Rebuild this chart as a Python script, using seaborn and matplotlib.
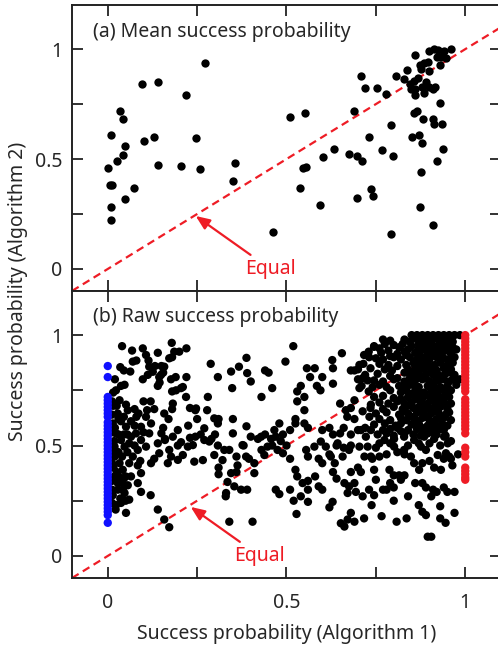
import matplotlib
matplotlib.use("Agg")
import numpy as np
import pandas as pd
import matplotlib.pyplot as plt
import seaborn as sns

# ---- data -------------------------------------------------------------
# (a) mean success probability: (algorithm 1, algorithm 2)
mean_points = [
    (0.0, 0.46), (0.01, 0.61), (0.005, 0.38), (0.013, 0.38), (0.01, 0.28), (0.01, 0.225),
    (0.025, 0.49), (0.035, 0.72), (0.044, 0.68), (0.042, 0.52), (0.049, 0.56), (0.049, 0.32),
    (0.074, 0.37), (0.096, 0.84), (0.10, 0.58), (0.129, 0.60), (0.14, 0.85), (0.14, 0.475),
    (0.205, 0.47), (0.22, 0.79), (0.248, 0.595), (0.257, 0.455), (0.273, 0.935), (0.351, 0.40),
    (0.357, 0.48), (0.463, 0.17), (0.51, 0.69), (0.538, 0.37), (0.546, 0.46), (0.555, 0.465),
    (0.553, 0.71), (0.595, 0.29), (0.603, 0.51), (0.633, 0.545), (0.675, 0.525), (0.688, 0.72),
    (0.696, 0.325), (0.698, 0.515), (0.712, 0.49), (0.708, 0.88), (0.719, 0.825), (0.73, 0.60),
    (0.737, 0.365), (0.742, 0.33), (0.752, 0.825), (0.768, 0.54), (0.777, 0.795), (0.792, 0.655),
    (0.793, 0.16), (0.797, 0.515), (0.807, 0.88), (0.83, 0.865), (0.837, 0.905), (0.845, 0.84),
    (0.847, 0.82), (0.85, 0.60), (0.856, 0.71), (0.857, 0.855), (0.86, 0.973), (0.86, 0.82),
    (0.86, 0.79), (0.865, 0.72), (0.87, 0.61), (0.873, 0.927), (0.874, 0.28), (0.875, 0.91),
    (0.877, 0.44), (0.879, 0.575), (0.883, 0.68), (0.885, 0.935), (0.88, 0.83), (0.885, 0.80),
    (0.89, 0.85), (0.895, 0.94), (0.90, 0.90), (0.90, 0.99), (0.90, 0.83), (0.909, 0.20),
    (0.91, 0.68), (0.91, 0.82), (0.912, 0.66), (0.913, 1.0), (0.915, 0.83), (0.92, 0.965),
    (0.921, 0.49), (0.93, 0.755), (0.93, 0.93), (0.933, 0.965), (0.935, 0.66), (0.938, 0.545),
    (0.94, 0.99), (0.945, 0.96), (0.96, 1.0), (0.925, 0.995), (0.868, 0.87),
]

# (b) raw success probability, algorithm 1 == 0 (blue) and == 1 (red)
raw_zero_y = [0.86, 0.81, 0.72, 0.705, 0.69, 0.675, 0.66, 0.645, 0.63, 0.605, 0.59, 0.575,
              0.56, 0.545, 0.53, 0.515, 0.50, 0.485, 0.47, 0.455, 0.44, 0.425, 0.41, 0.395,
              0.38, 0.365, 0.35, 0.335, 0.32, 0.305, 0.29, 0.275, 0.26, 0.245, 0.23, 0.215,
              0.20, 0.185, 0.15]
raw_one_y = [1.0, 0.985, 0.97, 0.955, 0.94, 0.925, 0.91, 0.895, 0.88, 0.865, 0.85, 0.835,
             0.82, 0.805, 0.79, 0.775, 0.76, 0.745, 0.71, 0.695, 0.68, 0.665, 0.65, 0.635,
             0.62, 0.605, 0.59, 0.575, 0.555, 0.49, 0.47, 0.45, 0.40, 0.385, 0.37, 0.355, 0.345]

raw_left = [
    (0.04, 0.95), (0.068, 0.93), (0.098, 0.94), (0.14, 0.92), (0.107, 0.91), (0.114, 0.885),
    (0.035, 0.855), (0.045, 0.84), (0.07, 0.88), (0.08, 0.885), (0.063, 0.835), (0.116, 0.857),
    (0.126, 0.834), (0.02, 0.80), (0.037, 0.77), (0.047, 0.775), (0.098, 0.80), (0.144, 0.81),
    (0.14, 0.77), (0.112, 0.82), (0.132, 0.86), (0.15, 0.86), (0.155, 0.83), (0.145, 0.785),
    (0.015, 0.74), (0.023, 0.75), (0.033, 0.705), (0.015, 0.68), (0.028, 0.645), (0.051, 0.685),
    (0.056, 0.66), (0.037, 0.61), (0.051, 0.585), (0.065, 0.61), (0.075, 0.665), (0.08, 0.63),
    (0.1, 0.70), (0.12, 0.70), (0.065, 0.54), (0.079, 0.555), (0.093, 0.585), (0.086, 0.645),
    (0.107, 0.63), (0.121, 0.60), (0.116, 0.555), (0.093, 0.525), (0.107, 0.495), (0.084, 0.48),
    (0.07, 0.45), (0.06, 0.42), (0.084, 0.41), (0.093, 0.375), (0.065, 0.36), (0.056, 0.32),
    (0.047, 0.285), (0.06, 0.255), (0.028, 0.30), (0.023, 0.23), (0.051, 0.195), (0.037, 0.24),
    (0.019, 0.36), (0.033, 0.42), (0.019, 0.495), (0.047, 0.495), (0.023, 0.555), (0.037, 0.525),
    (0.019, 0.45), (0.042, 0.39), (0.028, 0.33), (0.042, 0.30), (0.014, 0.275), (0.014, 0.60),
    (0.084, 0.33), (0.093, 0.29), (0.091, 0.43), (0.121, 0.42), (0.13, 0.44), (0.144, 0.465),
    (0.14, 0.51), (0.018, 0.52), (0.016, 0.40), (0.02, 0.58), (0.03, 0.47), (0.025, 0.38),
    (0.022, 0.21), (0.03, 0.62), (0.045, 0.55), (0.055, 0.47), (0.035, 0.26), (0.05, 0.36),
    (0.06, 0.51), (0.075, 0.50), (0.075, 0.59), (0.10, 0.56), (0.11, 0.66), (0.13, 0.665),
    (0.12, 0.275), (0.14, 0.21), (0.158, 0.165), (0.172, 0.13), (0.05, 0.25), (0.155, 0.58),
    (0.15, 0.555), (0.16, 0.53), (0.055, 0.55), (0.045, 0.35),
    (0.012, 0.70), (0.012, 0.64), (0.012, 0.56), (0.012, 0.48), (0.012, 0.42), (0.012, 0.34),
    (0.012, 0.30), (0.012, 0.24), (0.03, 0.55), (0.03, 0.36), (0.04, 0.45), (0.045, 0.63),
    (0.025, 0.68), (0.04, 0.33),
]
raw_mid = [
    (0.179, 0.965), (0.186, 0.925), (0.20, 0.925), (0.172, 0.895), (0.18, 0.90), (0.22, 0.94),
    (0.288, 0.87), (0.158, 0.857), (0.149, 0.82), (0.177, 0.80), (0.19, 0.81), (0.22, 0.81),
    (0.205, 0.76), (0.191, 0.75), (0.21, 0.765), (0.18, 0.745), (0.28, 0.72), (0.182, 0.69),
    (0.18, 0.665), (0.158, 0.645), (0.17, 0.62), (0.23, 0.67), (0.245, 0.66), (0.25, 0.62),
    (0.225, 0.59), (0.196, 0.57), (0.16, 0.525), (0.182, 0.54), (0.196, 0.50), (0.205, 0.515),
    (0.224, 0.495), (0.238, 0.502), (0.23, 0.535), (0.245, 0.54), (0.26, 0.55), (0.29, 0.53),
    (0.30, 0.55), (0.172, 0.48), (0.177, 0.45), (0.196, 0.435), (0.168, 0.42), (0.21, 0.457),
    (0.242, 0.427), (0.266, 0.434), (0.27, 0.525), (0.284, 0.518), (0.308, 0.50), (0.326, 0.48),
    (0.298, 0.457), (0.321, 0.434), (0.308, 0.81), (0.278, 0.66), (0.298, 0.623), (0.308, 0.60),
    (0.35, 0.62), (0.345, 0.835), (0.367, 0.857), (0.388, 0.897), (0.39, 0.828), (0.40, 0.79),
    (0.348, 0.76), (0.44, 0.84), (0.45, 0.83), (0.46, 0.76), (0.43, 0.72), (0.35, 0.555),
    (0.377, 0.502), (0.387, 0.45), (0.363, 0.41), (0.345, 0.375), (0.335, 0.335), (0.331, 0.285),
    (0.354, 0.315), (0.373, 0.30), (0.39, 0.30), (0.33, 0.27), (0.36, 0.38), (0.31, 0.40),
    (0.31, 0.37), (0.34, 0.48), (0.38, 0.50), (0.36, 0.45), (0.395, 0.44), (0.41, 0.375),
    (0.41, 0.42), (0.43, 0.48), (0.46, 0.50), (0.475, 0.48), (0.49, 0.465), (0.429, 0.54),
    (0.48, 0.60), (0.466, 0.57), (0.457, 0.53), (0.484, 0.52), (0.447, 0.495), (0.438, 0.457),
    (0.388, 0.587), (0.40, 0.54), (0.42, 0.53), (0.44, 0.55), (0.47, 0.54), (0.48, 0.28),
    (0.47, 0.30), (0.405, 0.155), (0.34, 0.155), (0.27, 0.578), (0.247, 0.668), (0.219, 0.72),
    (0.31, 0.62),
]
raw_right = [
    (0.519, 0.95), (0.497, 0.88), (0.557, 0.85), (0.579, 0.85), (0.566, 0.81), (0.60, 0.81),
    (0.585, 0.77), (0.595, 0.75), (0.63, 0.85), (0.63, 0.78), (0.628, 0.887), (0.655, 0.918),
    (0.69, 0.84), (0.70, 0.80), (0.54, 0.77), (0.53, 0.745), (0.55, 0.72), (0.53, 0.70),
    (0.55, 0.66), (0.65, 0.69), (0.666, 0.66), (0.68, 0.67), (0.67, 0.63), (0.69, 0.62),
    (0.525, 0.62), (0.525, 0.60), (0.55, 0.60), (0.56, 0.58), (0.49, 0.55), (0.51, 0.57),
    (0.60, 0.57), (0.62, 0.58), (0.63, 0.55), (0.65, 0.555), (0.66, 0.58), (0.68, 0.55),
    (0.70, 0.57), (0.72, 0.58), (0.50, 0.50), (0.51, 0.44), (0.525, 0.39), (0.53, 0.36),
    (0.545, 0.33), (0.56, 0.34), (0.58, 0.36), (0.51, 0.30), (0.52, 0.25), (0.54, 0.27),
    (0.56, 0.30), (0.528, 0.19), (0.555, 0.48), (0.56, 0.45), (0.59, 0.44), (0.60, 0.42),
    (0.62, 0.46), (0.635, 0.42), (0.64, 0.50), (0.66, 0.49), (0.68, 0.50), (0.578, 0.495),
    (0.596, 0.518), (0.61, 0.495), (0.624, 0.45), (0.643, 0.51), (0.657, 0.45), (0.675, 0.48),
    (0.63, 0.38), (0.64, 0.35), (0.68, 0.38), (0.662, 0.33), (0.675, 0.315), (0.69, 0.33),
    (0.708, 0.38), (0.70, 0.40), (0.718, 0.45), (0.727, 0.495), (0.704, 0.495), (0.722, 0.54),
    (0.708, 0.57), (0.736, 0.57), (0.732, 0.63), (0.713, 0.655), (0.736, 0.685), (0.741, 0.765),
    (0.727, 0.795), (0.713, 0.805), (0.704, 0.76), (0.69, 0.705), (0.68, 0.84), (0.704, 0.865),
    (0.717, 0.91), (0.745, 0.947), (0.731, 0.90), (0.629, 0.245), (0.62, 0.22), (0.652, 0.148),
    (0.662, 0.133), (0.671, 0.165), (0.68, 0.195), (0.69, 0.155), (0.717, 0.17), (0.738, 0.23),
    (0.671, 0.285), (0.694, 0.29), (0.713, 0.27), (0.731, 0.30), (0.745, 0.275), (0.75, 0.345),
    (0.745, 0.39), (0.736, 0.45), (0.75, 0.49), (0.56, 0.245), (0.59, 0.315), (0.60, 0.30),
]
raw_far = [
    (0.766, 0.18), (0.808, 0.155), (0.836, 0.17), (0.87, 0.23), (0.88, 0.20), (0.89, 0.185),
    (0.895, 0.087), (0.905, 0.087), (0.93, 0.225), (0.93, 0.17), (0.945, 0.15), (0.97, 0.195),
    (0.77, 0.30), (0.78, 0.30), (0.80, 0.31), (0.80, 0.25), (0.84, 0.27), (0.79, 0.33),
    (0.80, 0.365), (0.815, 0.365), (0.83, 0.365), (0.86, 0.33), (0.88, 0.33), (0.89, 0.31),
    (0.905, 0.27), (0.91, 0.30), (0.92, 0.29), (0.94, 0.31), (0.95, 0.29), (0.97, 0.29),
    (0.788, 0.39), (0.82, 0.345), (0.857, 0.42), (0.871, 0.39), (0.88, 0.42), (0.90, 0.43),
    (0.913, 0.40), (0.932, 0.39), (0.94, 0.44), (0.955, 0.45), (0.98, 0.46), (0.964, 0.41),
    (0.89, 0.48), (0.81, 0.47), (0.83, 0.46), (0.74, 0.44), (0.76, 0.45), (0.78, 0.46),
    (0.801, 0.495), (0.829, 0.48), (0.848, 0.45), (0.876, 0.495), (0.923, 0.457), (0.946, 0.465),
    (0.951, 0.51), (0.774, 0.525), (0.801, 0.53), (0.829, 0.54), (0.857, 0.525), (0.885, 0.54),
    (0.913, 0.53), (0.941, 0.54), (0.76, 0.51), (0.79, 0.51), (0.84, 0.50), (0.87, 0.51),
    (0.90, 0.51), (0.93, 0.50), (0.96, 0.52), (0.985, 0.80), (0.96, 0.44),
]
raw_dense = [
    (0.85, 1.0), (0.865, 1.0), (0.88, 1.0), (0.895, 1.0), (0.91, 1.0), (0.925, 1.0), (0.94, 1.0),
    (0.955, 1.0), (0.97, 1.0), (0.985, 1.0),
    (0.77, 0.98), (0.79, 0.975), (0.83, 0.98), (0.845, 0.97), (0.86, 0.985), (0.875, 0.975),
    (0.89, 0.98), (0.905, 0.97), (0.92, 0.985), (0.935, 0.975), (0.95, 0.98), (0.965, 0.97),
    (0.745, 0.95), (0.76, 0.94), (0.80, 0.955), (0.815, 0.945), (0.85, 0.95), (0.87, 0.94),
    (0.885, 0.955), (0.90, 0.945), (0.92, 0.95), (0.935, 0.94), (0.95, 0.955), (0.965, 0.945),
    (0.73, 0.925), (0.765, 0.92), (0.785, 0.93), (0.81, 0.915), (0.83, 0.925), (0.86, 0.92),
    (0.875, 0.93), (0.895, 0.915), (0.91, 0.925), (0.93, 0.92), (0.945, 0.93), (0.96, 0.915),
    (0.75, 0.895), (0.77, 0.89), (0.80, 0.90), (0.82, 0.89), (0.845, 0.90), (0.865, 0.89),
    (0.88, 0.90), (0.90, 0.89), (0.92, 0.90), (0.94, 0.895), (0.955, 0.89), (0.97, 0.90),
    (0.715, 0.87), (0.76, 0.87), (0.785, 0.865), (0.835, 0.865), (0.855, 0.875), (0.875, 0.865),
    (0.89, 0.875), (0.915, 0.865), (0.93, 0.875), (0.95, 0.865),
    (0.70, 0.845), (0.735, 0.85), (0.775, 0.845), (0.795, 0.84), (0.84, 0.845), (0.86, 0.84),
    (0.885, 0.85), (0.905, 0.845), (0.92, 0.84), (0.94, 0.85), (0.96, 0.845),
    (0.72, 0.82), (0.755, 0.825), (0.79, 0.815), (0.85, 0.82), (0.87, 0.815), (0.89, 0.825),
    (0.91, 0.82), (0.93, 0.815), (0.945, 0.825), (0.97, 0.82),
    (0.745, 0.795), (0.77, 0.79), (0.80, 0.80), (0.83, 0.79), (0.86, 0.795), (0.88, 0.80),
    (0.90, 0.79), (0.92, 0.795), (0.94, 0.80), (0.955, 0.79),
    (0.71, 0.77), (0.76, 0.775), (0.78, 0.765), (0.815, 0.77), (0.845, 0.775), (0.87, 0.765),
    (0.895, 0.77), (0.91, 0.775), (0.93, 0.765), (0.95, 0.77), (0.975, 0.775),
    (0.73, 0.745), (0.79, 0.75), (0.82, 0.74), (0.835, 0.75), (0.86, 0.745), (0.885, 0.74),
    (0.905, 0.75), (0.925, 0.745), (0.945, 0.74), (0.96, 0.75),
    (0.745, 0.72), (0.77, 0.725), (0.80, 0.715), (0.84, 0.72), (0.865, 0.725), (0.88, 0.715),
    (0.90, 0.72), (0.915, 0.725), (0.935, 0.715), (0.955, 0.72),
    (0.76, 0.695), (0.785, 0.69), (0.81, 0.70), (0.83, 0.69), (0.85, 0.695), (0.875, 0.70),
    (0.895, 0.69), (0.92, 0.695), (0.94, 0.70), (0.96, 0.69),
    (0.735, 0.67), (0.77, 0.665), (0.80, 0.675), (0.825, 0.665), (0.855, 0.67), (0.87, 0.675),
    (0.89, 0.665), (0.91, 0.67), (0.93, 0.675), (0.95, 0.665),
    (0.75, 0.645), (0.78, 0.65), (0.815, 0.64), (0.84, 0.645), (0.865, 0.65), (0.885, 0.64),
    (0.905, 0.645), (0.925, 0.65), (0.945, 0.64),
    (0.76, 0.62), (0.79, 0.615), (0.82, 0.625), (0.835, 0.615), (0.86, 0.62), (0.88, 0.625),
    (0.90, 0.615), (0.92, 0.62), (0.94, 0.625), (0.96, 0.615),
    (0.745, 0.595), (0.775, 0.60), (0.805, 0.59), (0.85, 0.595), (0.87, 0.60), (0.895, 0.59),
    (0.915, 0.595), (0.935, 0.60), (0.95, 0.59),
    (0.77, 0.57), (0.79, 0.575), (0.82, 0.565), (0.84, 0.57), (0.865, 0.575), (0.885, 0.565),
    (0.905, 0.57), (0.93, 0.575),
    (0.755, 0.55), (0.80, 0.545), (0.83, 0.555), (0.855, 0.55), (0.875, 0.545), (0.895, 0.555),
    (0.92, 0.55), (0.945, 0.545),
]
raw_dense_fill = [
    (0.855, 0.985), (0.87, 0.96), (0.90, 0.96), (0.93, 0.96), (0.96, 0.985), (0.775, 0.96),
    (0.825, 0.96), (0.84, 0.935), (0.89, 0.935), (0.92, 0.935), (0.955, 0.93), (0.975, 0.935),
    (0.79, 0.905), (0.835, 0.91), (0.87, 0.91), (0.905, 0.905), (0.935, 0.905), (0.965, 0.875),
    (0.81, 0.86), (0.86, 0.86), (0.90, 0.86), (0.95, 0.84), (0.83, 0.83), (0.87, 0.835),
    (0.92, 0.83), (0.96, 0.83), (0.81, 0.805), (0.845, 0.805), (0.89, 0.805), (0.93, 0.80),
    (0.965, 0.80), (0.83, 0.765), (0.86, 0.765), (0.91, 0.76), (0.94, 0.755), (0.85, 0.735),
    (0.875, 0.735), (0.92, 0.735), (0.95, 0.73), (0.82, 0.71), (0.86, 0.71), (0.905, 0.705),
    (0.93, 0.705), (0.84, 0.68), (0.88, 0.685), (0.92, 0.68), (0.945, 0.685), (0.83, 0.655),
    (0.875, 0.655), (0.915, 0.655), (0.955, 0.65), (0.85, 0.63), (0.89, 0.63), (0.93, 0.63),
    (0.82, 0.60), (0.86, 0.605), (0.905, 0.605), (0.925, 0.58), (0.875, 0.585), (0.81, 0.58),
    (0.94, 0.57), (0.78, 0.555), (0.91, 0.56),
]

tick_pos = [0, 0.25, 0.5, 0.75, 1]
tick_text = ["0", "", "0.5", "", "1"]

RED = "#ee1c25"
BLUE = "#1010ff"
FS = 14

# ---- figure -----------------------------------------------------------
sns.set_style("ticks")
plt.rcParams['font.family'] = ['Noto Sans', 'DejaVu Sans']

fig = plt.figure(figsize=(4.98, 6.48), dpi=100)
ax_a = fig.add_axes([0.1446, 0.551, 0.8614, 0.441])
ax_b = fig.add_axes([0.1446, 0.108, 0.8614, 0.443])

df_a = pd.DataFrame(mean_points, columns=["alg1", "alg2"])
sns.scatterplot(data=df_a, x="alg1", y="alg2", color="black", s=36,
                linewidth=0, ax=ax_a, zorder=3)

black = pd.DataFrame(raw_left + raw_mid + raw_right + raw_far + raw_dense + raw_dense_fill,
                     columns=["alg1", "alg2"])
black["group"] = "other"
zero = pd.DataFrame({"alg1": 0.0, "alg2": raw_zero_y, "group": "zero"})
one = pd.DataFrame({"alg1": 1.0, "alg2": raw_one_y, "group": "one"})
df_b = pd.concat([black, zero, one], ignore_index=True)
sns.scatterplot(data=df_b, x="alg1", y="alg2", hue="group",
                palette={"other": "black", "zero": BLUE, "one": RED},
                s=36, linewidth=0, legend=False, ax=ax_b, zorder=3)

panels = [
    (ax_a, "(a) Mean success probability", (0.246, 0.241), (0.455, 0.0)),
    (ax_b, "(b) Raw success probability", (0.232, 0.222), (0.425, 0.0)),
]
for ax, title, tip, label_pos in panels:
    ax.axline((0, 0), (1, 1), color=RED, ls=(0, (3.5, 2.2)), lw=1.6, zorder=2)
    ax.annotate("Equal", xy=tip, xytext=label_pos, color=RED, fontsize=FS,
                ha="center", va="center",
                arrowprops=dict(arrowstyle="-|>,head_length=0.6,head_width=0.25",
                                color=RED, lw=1.6, shrinkA=1, shrinkB=0))
    ax.text(-0.04, 1.08, title, fontsize=FS, ha="left", va="center")
    ax.set_xlim(-0.1, 1.1)
    ax.set_ylim(-0.1, 1.2)
    ax.set_xticks(tick_pos)
    ax.set_yticks(tick_pos)
    ax.set_yticklabels(tick_text)
    ax.set_xlabel("")
    ax.set_ylabel("")
    ax.tick_params(direction="in", length=8, width=1.3, top=True, right=True,
                   labelsize=FS, color="#222222")
    ax.tick_params(axis="y", pad=7)
    ax.tick_params(axis="x", pad=11)
    for sp in ax.spines.values():
        sp.set_linewidth(1.4)
        sp.set_color("#222222")

ax_a.set_xticklabels([])
ax_b.set_xticklabels(tick_text)

fig.text(0.575, 0.021, "Success probability (Algorithm 1)", fontsize=FS,
         ha="center", va="center")
fig.text(0.036, 0.551, "Success probability (Algorithm 2)", fontsize=FS,
         ha="center", va="center", rotation=90)

fig.savefig("out.png", dpi=100)
